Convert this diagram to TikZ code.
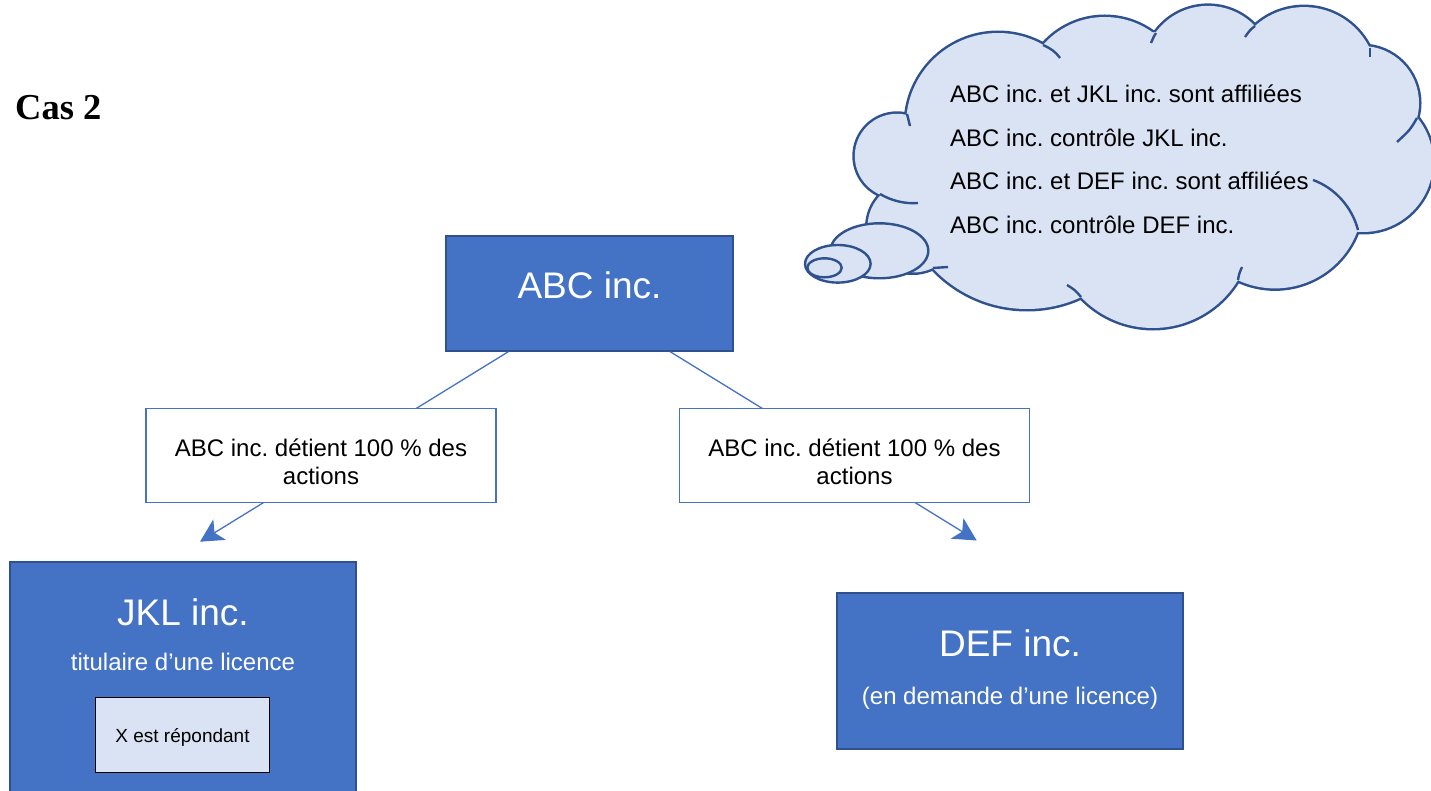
\documentclass[tikz,border=0pt]{standalone}
\usepackage{fontspec}
\setmainfont{Liberation Sans}
\newfontfamily\casfont{Liberation Serif}
\usetikzlibrary{arrows.meta,calc}
\definecolor{accent}{HTML}{4472C4}
\definecolor{accentdark}{HTML}{2F528F}
\definecolor{lightfill}{HTML}{DAE3F3}
\frenchspacing
\begin{document}
\frenchspacing
\begin{tikzpicture}[x=1pt,y=-1pt,
  company/.style={draw=accentdark, line width=1.5pt, fill=accent, inner sep=0pt},
  labelbox/.style={draw=accent, line width=1.6pt, fill=white, inner sep=0pt, minimum width=350pt, minimum height=94pt},
  respbox/.style={draw=black, line width=1.8pt, fill=lightfill, inner sep=0pt},
  txt/.style={inner sep=0pt, anchor=base},
  bigtxt/.style={txt, text=white, font=\fontsize{37}{44}\selectfont},
  midtxt/.style={txt, font=\fontsize{24}{28}\selectfont},
  cloudline/.style={draw=accentdark, line width=2.4pt},
  conn/.style={draw=accent, line width=1.3pt, -{Stealth[length=23pt, width=24pt, inset=6pt]}}
]
\useasboundingbox (0,0) rectangle (1431,791);
\clip (0,0) rectangle (1431,791);

% title
\node[inner sep=0pt, anchor=base west] (title) at (15,120) {\casfont\bfseries\fontsize{36.5}{44}\selectfont Cas 2};

% cloud body
\foreach \cx/\cy/\r in {897/156/42.2, 998/125/92, 1104.7/99/82, 1208/70.8/64.9, 1304/80/72.9, 1362/103/57, 1363/162/70, 1275/200.6/87.8, 1153/228.8/99.2, 1027/180/129, 913/227/45.5}
  \draw[draw=accentdark, line width=5pt] (\cx,\cy) circle[radius=\r];
\foreach \cx/\cy/\r in {897/156/42.2, 998/125/92, 1104.7/99/82, 1208/70.8/64.9, 1304/80/72.9, 1362/103/57, 1363/162/70, 1275/200.6/87.8, 1153/228.8/99.2, 1027/180/129, 913/227/45.5}
  \fill[lightfill] (\cx,\cy) circle[radius=\r];
\fill[lightfill] (907,115) -- (1043,45) -- (1156,32) -- (1255,26) -- (1370,48) -- (1417,118) -- (1358,230) -- (1238,280) -- (1081,297) -- (933,268) -- (881,195) -- cycle;
% cloud inner hooks
\draw[cloudline] (907,114) -- (910,126);
\draw[cloudline] (1043,45) .. controls (1050,48) and (1056,52) .. (1060,58);
\draw[cloudline] (1156,33) .. controls (1154,36) .. (1151,43);
\draw[cloudline] (1255,26) .. controls (1250,30) .. (1245,37);
\draw[cloudline] (1370,48) -- (1370,57);
\draw[cloudline] (1417,118) .. controls (1410,130) .. (1397,142);
\draw[cloudline] (1313,180) .. controls (1335,188) and (1352,207) .. (1358,230);
\draw[cloudline] (1238,280) .. controls (1239,274) .. (1242,267);
\draw[cloudline] (1081,297) .. controls (1075,290) .. (1067,285);
\draw[cloudline] (933,268) .. controls (940,267) .. (948,267);
\draw[cloudline] (880,194) .. controls (892,201) and (905,204) .. (918,203);
% thought bubbles
\draw[cloudline, fill=lightfill] (879.4,250.8) ellipse [x radius=48.9, y radius=27.5];
\draw[cloudline, fill=lightfill] (837.8,263.8) ellipse [x radius=32.8, y radius=18.8];
\draw[cloudline, fill=lightfill] (824.5,267.8) ellipse [x radius=17.2, y radius=9.5];
% cloud text
\node[midtxt, anchor=base west] (c1) at (950,102.5) {ABC inc. et JKL inc. sont affiliées};
\node[midtxt, anchor=base west] (c2) at (950,146.5) {ABC inc. contrôle JKL inc.};
\node[midtxt, anchor=base west] (c3) at (950,190) {ABC inc. et DEF inc. sont affiliées};
\node[midtxt, anchor=base west] (c4) at (950,233.5) {ABC inc. contrôle DEF inc.};

% company boxes
\node[company, minimum width=287pt, minimum height=115pt] (abc) at (589.5,293.5) {};
\node[bigtxt] (abct) at (589.5,299) {ABC inc.};

\node[company, minimum width=346pt, minimum height=258pt] (jkl) at (183,691) {};
\node[bigtxt] (jklt) at (183,625) {JKL inc.};
\node[midtxt, text=white] (jkls) at (183,670) {titulaire d’une licence};
\node[respbox, minimum width=174pt, minimum height=75pt] (resp) at (182.5,735) {};
\node[txt, font=\fontsize{19}{23}\selectfont] (respt) at (182.5,742.5) {X est répondant};

\node[company, minimum width=346pt, minimum height=156pt] (def) at (1010,671) {};
\node[bigtxt] (deft) at (1010,656) {DEF inc.};
\node[midtxt, text=white] (defs) at (1010,704) {(en demande d’une licence)};

% connectors
\coordinate (tipL) at (200,541.7);
\coordinate (tipR) at (976.7,540.5);
\draw[conn] ($(abc.south west)+(63,0)$) -- (tipL);
\draw[conn] ($(abc.south west)+(225,0)$) -- (tipR);

% label boxes
\node[labelbox] (lblL) at (321,455.3) {};
\node[midtxt] (lblL1) at (321,456.7) {ABC inc. détient 100 \% des};
\node[midtxt] (lblL2) at (321,484) {actions};
\node[labelbox] (lblR) at (854.3,455.3) {};
\node[midtxt] (lblR1) at (854.5,456.7) {ABC inc. détient 100 \% des};
\node[midtxt] (lblR2) at (854.5,484) {actions};
\end{tikzpicture}
\end{document}
